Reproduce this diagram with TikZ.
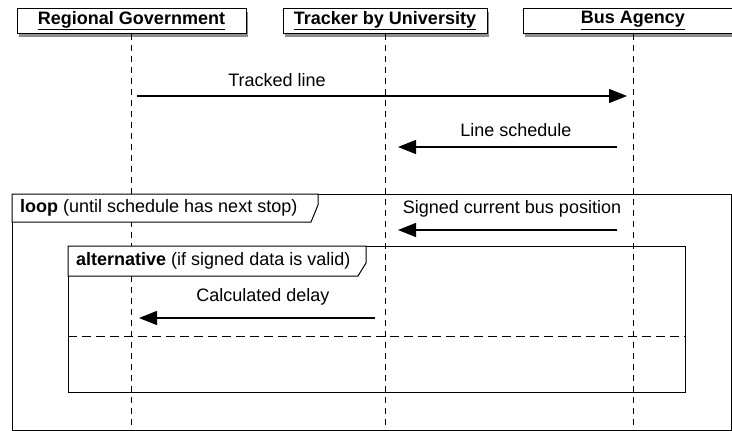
\documentclass[tikz,border=0pt]{standalone}
\usepackage{fontspec}
\setmainfont{Liberation Sans}
\usetikzlibrary{arrows.meta,shadows}
\begin{document}
\begin{tikzpicture}[x=1pt,y=1pt,font=\fontsize{18}{21}\selectfont]
	\tikzset{actor/.style={draw,fill=white,line width=1pt,inner sep=0pt,minimum height=25pt,
			drop shadow={shadow xshift=2pt,shadow yshift=-3.5pt,fill=black!55,opacity=.8}},
		lifeline/.style={dash pattern=on 6pt off 5pt,line width=.9pt},
		msg/.style={-{Triangle[length=18pt,width=14pt]},line width=1.4pt},
		frame/.style={draw,line width=1pt},
		tab/.style={draw,fill=white,line width=1pt}}
	\useasboundingbox (0,0) rectangle (732,-431);
	% actors
	\node[actor,minimum width=229pt] (rg) at (131.5,-20.5) {\textbf{\underline{Regional Government}}};
	\node[actor,minimum width=204pt] (tracker) at (385,-20.5) {\textbf{\underline{Tracker by University}}};
	\node[actor,minimum width=220pt] (agency) at (633,-20.5) {\textbf{\underline{Bus Agency}}};
	% lifelines
	\draw[lifeline] (rg.south) -- (rg.south |- 0,-431);
	\draw[lifeline] (tracker.south) -- (tracker.south |- 0,-431);
	\draw[lifeline] (agency.south) -- (agency.south |- 0,-431);
	% frames
	\draw[frame] (12,-194) rectangle (731,-430);
	\draw[frame] (68,-246) rectangle (685,-392);
	\draw[frame,dash pattern=on 9pt off 5pt] (68,-336) -- (685,-336);
	\path[tab] (12,-194) -- (318,-194) -- (318,-205) -- (311,-222) -- (12,-222) -- cycle;
	\node[anchor=west,inner sep=0pt] (looplbl) at (20,-208) {\textbf{loop} (until schedule has next stop)};
	\path[tab] (68,-246) -- (366,-246) -- (366,-263) -- (358,-276) -- (68,-276) -- cycle;
	\node[anchor=west,inner sep=0pt] (altlbl) at (76,-261) {\textbf{alternative} (if signed data is valid)};
	% messages
	\coordinate (m1a) at (137,-96);
	\coordinate (m1b) at (627,-96);
	\draw[msg] (m1a) -- (m1b);
	\node (m1) at (277,-80) {Tracked line};
	\coordinate (m2a) at (617,-147);
	\coordinate (m2b) at (398,-147);
	\draw[msg] (m2a) -- (m2b);
	\node (m2) at (516,-130) {Line schedule};
	\coordinate (m3a) at (617,-230);
	\coordinate (m3b) at (398,-230);
	\draw[msg] (m3a) -- (m3b);
	\node (m3) at (512,-209) {Signed current bus position};
	\coordinate (m4a) at (375,-318);
	\coordinate (m4b) at (139,-318);
	\draw[msg] (m4a) -- (m4b);
	\node (m4) at (263,-297) {Calculated delay};
\end{tikzpicture}
\end{document}
